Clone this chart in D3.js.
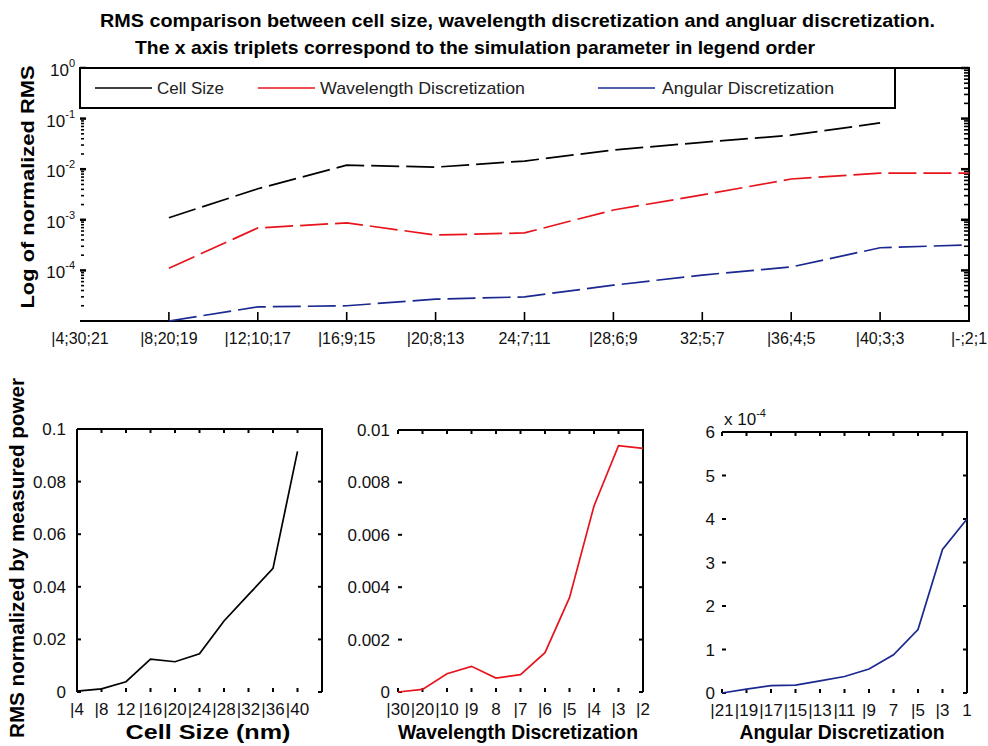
<!DOCTYPE html>
<html><head><meta charset="utf-8">
<script src="https://cdn.jsdelivr.net/npm/d3@7"></script>
<style>body{margin:0;background:#fff}svg{display:block}</style>
</head><body><svg id="c" width="988" height="746"></svg>
<script>
// ---------- data ----------
const topCategories = ["|4;30;21","|8;20;19","|12;10;17","|16;9;15","|20;8;13","24;7;11","|28;6;9","32;5;7","|36;4;5","|40;3;3","|-;2;1"];
const cellSizeTop   = [null, 1.1e-3, 4.1e-3, 1.2e-2, 1.1e-2, 1.45e-2, 2.4e-2, 3.4e-2, 4.7e-2, 8.2e-2, null];
const wavelengthTop = [null, 1.1e-4, 6.9e-4, 8.7e-4, 5.0e-4, 5.5e-4, 1.56e-3, 3.1e-3, 6.4e-3, 8.4e-3, 8.4e-3];
const angularTop    = [null, 1.0e-5, 1.9e-5, 2.0e-5, 2.7e-5, 3.0e-5, 5.1e-5, 8.1e-5, 1.17e-4, 2.8e-4, 3.2e-4];
const topYTicks = [1, 1e-1, 1e-2, 1e-3, 1e-4];
const topYExponents = ["0","-1","-2","-3","-4"];
const legendLabels = ["Cell Size","Wavelength Discretization","Angular Discretization"];
const seriesColors = ["#000000","#e8141c","#1a2890"];

const cellSizes = [4,8,12,16,20,24,28,32,36,40];
const cellSizeLabels = ["|4","|8","12","|16","|20","|24","|28","|32","|36","|40"];
const cellSizeRMS = [0.0003, 0.0012, 0.0039, 0.0125, 0.0115, 0.0145, 0.027, 0.037, 0.047, 0.0915];
const cellYTicks = [0, 0.02, 0.04, 0.06, 0.08, 0.1];
const cellYLabels = ["0","0.02","0.04","0.06","0.08","0.1"];

const wavelengthLabels = ["|30","|20","|10","|9","8","|7","|6","|5","|4","|3","|2"];
const wavelengthRMS = [0, 0.0001, 0.0007, 0.00098, 0.00053, 0.00066, 0.0015, 0.0036, 0.0071, 0.0094, 0.0093];
const wavelengthYTicks = [0, 0.002, 0.004, 0.006, 0.008, 0.01];
const wavelengthYLabels = ["0","0.002","0.004","0.006","0.008","0.01"];

const angularLabels = ["|21","|19","|17","|15","|13","|11","|9","7","|5","|3","1"];
const angularRMS = [0, 0.09, 0.17, 0.18, 0.28, 0.38, 0.55, 0.88, 1.46, 3.3, 4.0]; // x 1e-4
const angularYTicks = [0,1,2,3,4,5,6];
const angularYLabels = ["0","1","2","3","4","5","6"];

// ---------- drawing ----------
const svg = d3.select("#c");
const FONT = "'Liberation Sans', Arial, sans-serif";
svg.append("rect").attr("width",988).attr("height",746).attr("fill","#fff");

svg.append("text").attr("x",100).attr("y",27).attr("font-family",FONT).attr("font-weight","bold")
  .attr("font-size",19).attr("textLength",835).attr("lengthAdjust","spacingAndGlyphs")
  .text("RMS comparison between cell size, wavelength discretization and angluar discretization.");
svg.append("text").attr("x",135).attr("y",54).attr("font-family",FONT).attr("font-weight","bold")
  .attr("font-size",19).attr("textLength",680).attr("lengthAdjust","spacingAndGlyphs")
  .text("The x axis triplets correspond to the simulation parameter in legend order");

// ---- top chart ----
const T = {l:80, r:969, t:68, b:321};
const xTop = d3.scalePoint().domain(d3.range(topCategories.length)).range([T.l, T.r]);
const yTop = d3.scaleLog().domain([1e-5, 1]).range([T.b, T.t]);
const gT = svg.append("g");

gT.append("path").attr("d", `M${T.l},${T.t}H${T.r}V${T.b}H${T.l}`).attr("fill","none").attr("stroke","#000").attr("stroke-width",2);

const minorVals = [];
for (let e=-5; e<0; e++) for (let m=2; m<10; m++) minorVals.push(m*Math.pow(10,e));
const majorVals = [1,1e-1,1e-2,1e-3,1e-4];
gT.selectAll(".lmaj").data(majorVals).join("line")
  .attr("x1",T.l).attr("x2",T.l+6).attr("y1",d=>yTop(d)).attr("y2",d=>yTop(d))
  .attr("stroke","#000").attr("stroke-width",2.5);
gT.selectAll(".lmin").data(minorVals).join("line")
  .attr("x1",T.l+1).attr("x2",T.l+4).attr("y1",d=>yTop(d)).attr("y2",d=>yTop(d))
  .attr("stroke","#000").attr("stroke-width",1.6);
gT.selectAll(".rmaj").data(majorVals).join("line")
  .attr("x1",T.r).attr("x2",T.r-8).attr("y1",d=>yTop(d)).attr("y2",d=>yTop(d))
  .attr("stroke","#000").attr("stroke-width",2.5);
gT.selectAll(".rmin").data(minorVals).join("line")
  .attr("x1",T.r).attr("x2",T.r-5).attr("y1",d=>yTop(d)).attr("y2",d=>yTop(d))
  .attr("stroke","#000").attr("stroke-width",1.6);
gT.selectAll(".bt").data(d3.range(1, topCategories.length)).join("line")
  .attr("x1",d=>xTop(d)).attr("x2",d=>xTop(d)).attr("y1",T.b).attr("y2",T.b-9)
  .attr("stroke","#000").attr("stroke-width",1.6);
gT.selectAll(".xl").data(topCategories).join("text")
  .attr("x",(d,i)=>xTop(i)).attr("y",T.b+23).attr("text-anchor","middle")
  .attr("font-family",FONT).attr("font-size",16).attr("fill","#111").text(d=>d);
topYTicks.forEach((v,i)=>{
  const t = gT.append("text").attr("x",T.l-5).attr("y",yTop(v)+8).attr("text-anchor","end")
    .attr("font-family",FONT).attr("font-size",17).attr("fill","#111");
  t.append("tspan").text("10");
  t.append("tspan").attr("dy",-9).attr("font-size",11).text(topYExponents[i]);
});
svg.append("text").attr("transform","translate(34,187) rotate(-90)").attr("text-anchor","middle")
  .attr("font-family",FONT).attr("font-weight","bold").attr("font-size",18)
  .attr("textLength",243).attr("lengthAdjust","spacingAndGlyphs").text("Log of normalized RMS");

const lineTop = d3.line().defined(d=>d!=null).x((d,i)=>xTop(i)).y(d=>yTop(d));
[cellSizeTop, wavelengthTop, angularTop].forEach((s,k)=>{
  gT.append("path").attr("d", lineTop(s)).attr("fill","none").attr("stroke",seriesColors[k])
    .attr("stroke-width",1.7).attr("stroke-dasharray","28,7");
});

// legend
const L = {l:80, r:895, t:68, b:108};
gT.append("rect").attr("x",L.l).attr("y",L.t).attr("width",L.r-L.l).attr("height",L.b-L.t)
  .attr("fill","#fff").attr("stroke","#000").attr("stroke-width",2);
const legX = [[95,152,157,67],[258,315,320,205],[598,655,662,172]];
legendLabels.forEach((lab,k)=>{
  gT.append("line").attr("x1",legX[k][0]).attr("x2",legX[k][1]).attr("y1",88).attr("y2",88)
    .attr("stroke",seriesColors[k]).attr("stroke-width",1.7);
  gT.append("text").attr("x",legX[k][2]).attr("y",94).attr("font-family",FONT).attr("font-size",17)
    .attr("fill","#222").attr("textLength",legX[k][3]).attr("lengthAdjust","spacingAndGlyphs").text(lab);
});

// ---- bottom charts ----
function panel(opt){
  const g = svg.append("g");
  const {l,r,t,b} = opt.box;
  const x = opt.x, y = opt.y;
  g.append("path").attr("d",`M${l},${t}H${r}V${b}`).attr("fill","none").attr("stroke","#000").attr("stroke-width",2);
  if (opt.leftLine) g.append("line").attr("x1",l).attr("x2",l).attr("y1",t).attr("y2",b).attr("stroke","#000").attr("stroke-width",2);
  opt.xTicks.forEach(v=>{
    const xx = x(v);
    g.append("line").attr("x1",xx).attr("x2",xx).attr("y1",t).attr("y2",t+4).attr("stroke","#000").attr("stroke-width",2);
    g.append("line").attr("x1",xx).attr("x2",xx).attr("y1",b).attr("y2",b-4).attr("stroke","#000").attr("stroke-width",2);
  });
  opt.yTicks.forEach(v=>{
    const yy = y(v);
    g.append("line").attr("x1",l).attr("x2",l+4).attr("y1",yy).attr("y2",yy).attr("stroke","#000").attr("stroke-width",2);
    g.append("line").attr("x1",r).attr("x2",r-4).attr("y1",yy).attr("y2",yy).attr("stroke","#000").attr("stroke-width",2);
  });
  opt.xTicks.forEach((v,i)=>{
    g.append("text").attr("x",x(v)).attr("y",b+23).attr("text-anchor","middle")
      .attr("font-family",FONT).attr("font-size",17).attr("fill","#111").text(opt.xLabels[i]);
  });
  opt.yTicks.forEach((v,i)=>{
    g.append("text").attr("x",l-opt.yGap).attr("y",y(v)+6).attr("text-anchor","end")
      .attr("font-family",FONT).attr("font-size",17).attr("fill","#111").text(opt.yLabels[i]);
  });
  g.append("text").attr("x",opt.titleX).attr("y",739).attr("text-anchor","middle")
    .attr("font-family",FONT).attr("font-weight","bold").attr("font-size",20)
    .attr("textLength",opt.titleLen).attr("lengthAdjust","spacingAndGlyphs").text(opt.title);
  const line = d3.line().x((d,i)=>x(opt.xs[i])).y(d=>y(d));
  g.append("path").attr("d",line(opt.values)).attr("fill","none").attr("stroke",opt.color).attr("stroke-width",1.7);
  return g;
}

const B1 = {l:77, r:322, t:429, b:692};
const x1 = d3.scaleLinear().domain([4,44]).range([B1.l,B1.r]);
const y1 = d3.scaleLinear().domain([0,0.1]).range([B1.b,B1.t]);
panel({box:B1, x:x1, y:y1, xTicks:cellSizes, xLabels:cellSizeLabels, yTicks:cellYTicks, yLabels:cellYLabels,
  yGap:11, leftLine:true, xs:cellSizes, values:cellSizeRMS, color:seriesColors[0],
  title:"Cell Size (nm)", titleX:208, titleLen:165});

const B2 = {l:398, r:643, t:430, b:692};
const x2 = d3.scalePoint().domain(d3.range(wavelengthLabels.length)).range([B2.l,B2.r]);
const y2 = d3.scaleLinear().domain([0,0.01]).range([B2.b,B2.t]);
panel({box:B2, x:x2, y:y2, xTicks:d3.range(wavelengthLabels.length), xLabels:wavelengthLabels,
  yTicks:wavelengthYTicks, yLabels:wavelengthYLabels, yGap:8, leftLine:false,
  xs:d3.range(wavelengthLabels.length), values:wavelengthRMS, color:seriesColors[1],
  title:"Wavelength Discretization", titleX:518, titleLen:240});

const B3 = {l:722, r:967, t:432, b:693};
const x3 = d3.scalePoint().domain(d3.range(angularLabels.length)).range([B3.l,B3.r]);
const y3 = d3.scaleLinear().domain([0,6]).range([B3.b,B3.t]);
panel({box:B3, x:x3, y:y3, xTicks:d3.range(angularLabels.length), xLabels:angularLabels,
  yTicks:angularYTicks, yLabels:angularYLabels, yGap:7, leftLine:false,
  xs:d3.range(angularLabels.length), values:angularRMS, color:seriesColors[2],
  title:"Angular Discretization", titleX:842, titleLen:205});
const ex = svg.append("text").attr("x",724).attr("y",425).attr("font-family",FONT).attr("font-size",17).attr("fill","#111");
ex.append("tspan").text("x 10");
ex.append("tspan").attr("dy",-8).attr("font-size",11).text("-4");

svg.append("text").attr("transform","translate(24,558) rotate(-90)").attr("text-anchor","middle")
  .attr("font-family",FONT).attr("font-weight","bold").attr("font-size",20)
  .attr("textLength",360).attr("lengthAdjust","spacingAndGlyphs").text("RMS normalized by measured power");
</script></body></html>
